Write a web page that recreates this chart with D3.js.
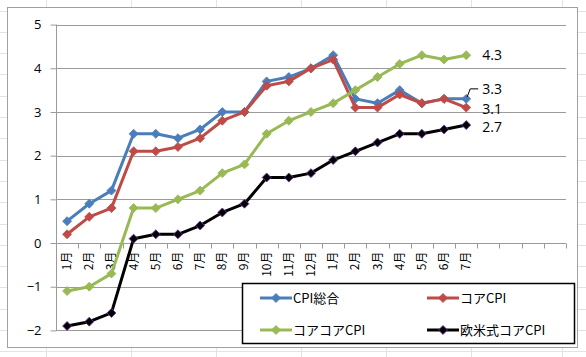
<!DOCTYPE html>
<html><head><meta charset="utf-8">
<script src="https://cdn.jsdelivr.net/npm/d3@7"></script>
<style>body{margin:0;background:#fff;}svg{display:block;}</style>
</head><body>
<script>
const months = ["1月","2月","3月","4月","5月","6月","7月","8月","9月","10月","11月","12月","1月","2月","3月","4月","5月","6月","7月"];
const emptySlots = 4;
const cpiAll   = [0.5,0.9,1.2,2.5,2.5,2.4,2.6,3.0,3.0,3.7,3.8,4.0,4.3,3.3,3.2,3.5,3.2,3.3,3.3];
const coreCpi  = [0.2,0.6,0.8,2.1,2.1,2.2,2.4,2.8,3.0,3.6,3.7,4.0,4.2,3.1,3.1,3.4,3.2,3.3,3.1];
const coreCore = [-1.1,-1.0,-0.7,0.8,0.8,1.0,1.2,1.6,1.8,2.5,2.8,3.0,3.2,3.5,3.8,4.1,4.3,4.2,4.3];
const westCore = [-1.9,-1.8,-1.6,0.1,0.2,0.2,0.4,0.7,0.9,1.5,1.5,1.6,1.9,2.1,2.3,2.5,2.5,2.6,2.7];
const seriesNames = ["CPI総合","コアCPI","コアコアCPI","欧米式コアCPI"];
const yTicks = [-2,-1,0,1,2,3,4,5];
const endLabels = ["3.3","3.1","4.3","2.7"];

const W = 586, H = 357;
const svg = d3.select("body").append("svg").attr("width", W).attr("height", H);

// spreadsheet background grid
const bg = svg.append("g").attr("stroke", "#e3e3e3").attr("stroke-width", 1);
for (let yy = 10.5; yy < H; yy += 21.3) bg.append("line").attr("x1", 0).attr("x2", W).attr("y1", Math.round(yy)+0.5).attr("y2", Math.round(yy)+0.5);
[46,131,216,301,386,471,562].forEach(xx => bg.append("line").attr("x1", xx+0.5).attr("x2", xx+0.5).attr("y1", 0).attr("y2", H));

// chart frame
svg.append("rect").attr("x", 7.5).attr("y", 7.5).attr("width", 570).attr("height", 340)
  .attr("fill", "#fff").attr("stroke", "#a0a0a0").attr("stroke-width", 1);

const nCat = months.length + emptySlots;
const x = d3.scaleBand().domain(d3.range(nCat)).range([56, 566]).padding(0);
const y = d3.scaleLinear().domain([-2, 5]).range([330.4, 24.6]);
const cx = i => x(i) + x.bandwidth() / 2;

// gridlines
svg.append("g").selectAll("line").data(yTicks).join("line")
  .attr("x1", 56).attr("x2", 566)
  .attr("y1", d => Math.round(y(d)) + 0.5).attr("y2", d => Math.round(y(d)) + 0.5)
  .attr("stroke", "#9a9a9a").attr("stroke-width", 1);

// y axis
const yAxis = d3.axisLeft(y).tickValues(yTicks).tickSize(6).tickPadding(9).tickFormat(d3.format("d"));
const gy = svg.append("g").attr("transform", "translate(56.5,0)").call(yAxis);
gy.select(".domain").attr("stroke", "#9a9a9a").attr("d", `M0,${y(5)}V${y(-2)}`);
gy.selectAll(".tick line").attr("stroke", "#9a9a9a");
gy.selectAll(".tick text").attr("font-family", "Open Sans, sans-serif").attr("font-size", 13).attr("fill", "#000");

// x axis at y=0
const y0 = Math.round(y(0)) + 0.5;
const gx = svg.append("g");
gx.append("line").attr("x1", 56).attr("x2", 566).attr("y1", y0).attr("y2", y0).attr("stroke", "#9a9a9a");
gx.selectAll("line.tk").data(d3.range(nCat + 1)).join("line").attr("class", "tk")
  .attr("x1", i => Math.round(56 + i * x.bandwidth()) + 0.5).attr("x2", i => Math.round(56 + i * x.bandwidth()) + 0.5)
  .attr("y1", y0).attr("y2", y0 + 5).attr("stroke", "#9a9a9a");
gx.selectAll("text").data(months).join("text")
  .attr("transform", (d, i) => `translate(${cx(i) + 4},${y0 + 8}) rotate(-90)`)
  .attr("text-anchor", "end")
  .attr("font-family", "Noto Sans CJK JP, sans-serif").attr("font-size", 12).attr("fill", "#000")
  .text(d => d);

// series
const colors = ["#4a7ebb", "#be4b48", "#98b954", "#000000"];
const strokes = ["#4a7ebb", "#be4b48", "#98b954", "#7030a0"];
const data = [cpiAll, coreCpi, coreCore, westCore];
const line = d3.line().x((d, i) => cx(i)).y(d => y(d));
data.forEach((vals, k) => {
  const g = svg.append("g");
  g.append("path").attr("d", line(vals)).attr("fill", "none")
    .attr("stroke", colors[k]).attr("stroke-width", 3).attr("stroke-linejoin", "round");
  g.selectAll("path.m").data(vals).join("path").attr("class", "m")
    .attr("transform", (d, i) => `translate(${cx(i)},${y(d)}) rotate(45)`)
    .attr("d", d3.symbol().type(d3.symbolSquare).size(40))
    .attr("fill", colors[k]).attr("stroke", strokes[k]).attr("stroke-width", 0.8);
});

// end labels
const last = months.length - 1;
const lblX = cx(last) + 16;
const lblY = [y(cpiAll[last]) - 10, y(coreCpi[last]) + 1, y(coreCore[last]), y(westCore[last]) + 2];
svg.append("g").selectAll("text").data(endLabels).join("text")
  .attr("x", lblX).attr("y", (d, i) => lblY[i]).attr("dy", "0.35em")
  .attr("font-family", "Open Sans, sans-serif").attr("font-size", 14).attr("fill", "#000")
  .text(d => d);
// leader for 3.3
svg.append("path")
  .attr("d", `M${cx(last)+1},${y(cpiAll[last]) - 2}L${cx(last)+4},${lblY[0]}H${lblX - 4}`)
  .attr("fill", "none").attr("stroke", "#000").attr("stroke-width", 1);

// legend
const lg = svg.append("g");
lg.append("rect").attr("x", 242.5).attr("y", 283.5).attr("width", 332).attr("height", 60)
  .attr("fill", "#fff").attr("stroke", "#000").attr("stroke-width", 1.5);
const lpos = [[260, 298], [427, 298], [260, 330], [427, 330]];
seriesNames.forEach((n, k) => {
  const [lx, ly] = lpos[k];
  lg.append("line").attr("x1", lx).attr("x2", lx + 32).attr("y1", ly).attr("y2", ly)
    .attr("stroke", colors[k]).attr("stroke-width", 3);
  lg.append("path").attr("transform", `translate(${lx + 16},${ly}) rotate(45)`)
    .attr("d", d3.symbol().type(d3.symbolSquare).size(40))
    .attr("fill", colors[k]).attr("stroke", strokes[k]).attr("stroke-width", 0.8);
  lg.append("text").attr("x", lx + 33).attr("y", ly).attr("dy", "0.35em")
    .attr("font-family", "Noto Sans CJK JP, sans-serif").attr("font-size", 13).attr("fill", "#000")
    .text(n);
});
</script>
</body></html>
